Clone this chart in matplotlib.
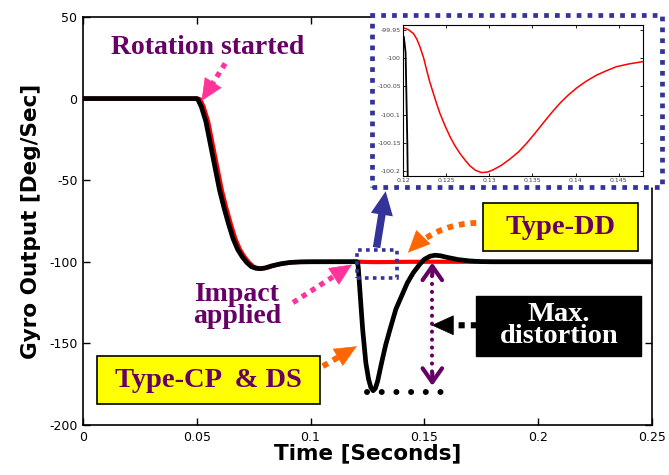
import matplotlib
matplotlib.use("Agg")
import matplotlib.pyplot as plt
from matplotlib.patches import Rectangle

# --- donnees ---
t_black = [0, 0.05, 0.0505, 0.052, 0.054, 0.057, 0.060, 0.062, 0.064, 0.066, 0.068,
           0.070, 0.072, 0.074, 0.076, 0.078, 0.080, 0.083, 0.087, 0.091, 0.095, 0.100,
           0.110, 0.1199, 0.1201, 0.1203, 0.1205, 0.1207, 0.121, 0.122, 0.1229, 0.1243,
           0.1255, 0.1265, 0.1275, 0.1285, 0.1295, 0.1312, 0.133, 0.1349, 0.1375, 0.140,
           0.1425, 0.1451, 0.148, 0.150, 0.1525, 0.1547, 0.157, 0.160, 0.165, 0.170,
           0.175, 0.180, 0.25]
v_black = [0, 0, -0.5, -5, -14, -35, -56, -67, -77, -86, -92.5,
           -97, -100.5, -103, -104, -104.2, -103.8, -102.5, -101.2, -100.4, -100.1, -100,
           -99.98, -99.96, -99.962, -99.99, -100.15, -100.4, -104, -124, -141.5, -162,
           -172, -177, -179, -177.5, -173, -162, -151, -141.5, -129, -121,
           -113, -106.8, -101.5, -98.5, -96.6, -96, -96.3, -97.3, -98.7, -99.5,
           -99.9, -100, -100]

t_red = [0, 0.0505, 0.0515, 0.053, 0.055, 0.058, 0.061, 0.063, 0.065, 0.067, 0.069,
         0.071, 0.073, 0.075, 0.077, 0.079, 0.081, 0.084, 0.088, 0.092, 0.096, 0.100,
         0.105, 0.110, 0.115, 0.118, 0.1200, 0.1206, 0.1212, 0.1216, 0.12197, 0.1224,
         0.12274, 0.1231, 0.12351, 0.1239, 0.12428, 0.1249, 0.12544, 0.1260, 0.1266,
         0.1272, 0.12775, 0.1284, 0.12911, 0.1298, 0.13045, 0.1314, 0.13238, 0.1334,
         0.13432, 0.1353, 0.13624, 0.1372, 0.13817, 0.1391, 0.1401, 0.1412, 0.14242,
         0.1436, 0.14473, 0.1462, 0.14781, 0.155, 0.170, 0.25]
v_red = [0, 0, -0.5, -5, -14, -35, -56, -67, -77, -86, -92.5,
         -97, -100.5, -103, -104, -104.1, -103.6, -102.3, -101.1, -100.4, -100.1, -100.0,
         -99.98, -99.96, -99.95, -99.946, -99.946, -99.949, -99.956, -99.966, -99.98, -100.0,
         -100.021, -100.042, -100.062, -100.081, -100.098, -100.121, -100.139, -100.155, -100.169,
         -100.181, -100.191, -100.199, -100.203, -100.202, -100.198, -100.19, -100.179, -100.166,
         -100.151, -100.133, -100.115, -100.097, -100.08, -100.066, -100.053, -100.041, -100.03,
         -100.022, -100.015, -100.01, -100.006, -99.998, -100.0, -100.0]

x_ticks = [0, 0.05, 0.1, 0.15, 0.2, 0.25]
x_labels = ['0', '0.05', '0.1', '0.15', '0.2', '0.25']
y_ticks = [-200, -150, -100, -50, 0, 50]
y_labels = ['-200', '-150', '-100', '-50', '0', '50']

zoom_x_ticks = [0.12, 0.125, 0.13, 0.135, 0.14, 0.145]
zoom_x_labels = ['0.12', '0.125', '0.13', '0.135', '0.14', '0.145']
zoom_y_ticks = [-100.2, -100.15, -100.1, -100.05, -100, -99.95]
zoom_y_labels = ['-100.2', '-100.15', '-100.1', '-100.05', '-100', '-99.95']

distortion_level = -180

PURPLE = '#660066'
PINK = '#FF3399'
ORANGE = '#FF6600'
BLUE = '#333399'
SERIF = 'Liberation Serif'

fig = plt.figure(figsize=(6.69, 4.75), dpi=100)
ax = fig.add_axes([0.124, 0.1053, 0.8505, 0.859])

ax.plot(t_red, v_red, color='red', lw=3.0, zorder=2)
ax.plot(t_black, v_black, color='black', lw=3.4, zorder=3)

ax.set_xlim(0, 0.25)
ax.set_ylim(-200, 50)
ax.set_xticks(x_ticks)
ax.set_xticklabels(x_labels)
ax.set_yticks(y_ticks)
ax.set_yticklabels(y_labels)
ax.tick_params(direction='in', top=True, right=True, length=5, width=1, labelsize=9, pad=4)
for s in ax.spines.values():
    s.set_linewidth(1.2)
ax.set_xlabel('Time [Seconds]', fontsize=15.5, fontweight='bold', labelpad=0)
ax.set_ylabel('Gyro Output [Deg/Sec]', fontsize=15.5, fontweight='bold', labelpad=6)


# fleche pointillee avec tete pleine (rad = courbure, comme arc3)
def dotted_arrow(tail, tip, color, lw=3.8, dash=(0, (1, 1.0)), rad=0.0):
    ax.annotate('', xy=tip, xytext=tail,
                arrowprops=dict(arrowstyle='-', color=color, lw=lw, linestyle=dash,
                                shrinkA=0, shrinkB=8, capstyle='butt',
                                connectionstyle='arc3,rad=%s' % rad), zorder=6)
    # direction de la tete : tangente a la fin de la courbe
    x1, y1 = ax.transData.transform(tail)
    x2, y2 = ax.transData.transform(tip)
    cx = (x1 + x2) / 2 + rad * (y2 - y1)
    cy = (y1 + y2) / 2 - rad * (x2 - x1)
    near = ax.transData.inverted().transform((x2 - 0.05 * (x2 - cx), y2 - 0.05 * (y2 - cy)))
    ax.annotate('', xy=tip, xytext=tuple(near),
                arrowprops=dict(arrowstyle='-|>,head_length=0.75,head_width=0.34',
                                color=color, lw=0.5, mutation_scale=20,
                                shrinkA=0, shrinkB=0), zorder=6)


# Rotation started
ax.text(0.0549, 31.2, 'Rotation started', color=PURPLE, fontsize=20, fontweight='bold',
        family=SERIF, ha='center', va='center')
dotted_arrow((0.0625, 21.5), (0.0521, -1.5), PINK)

# Impact applied
ax.text(0.0677, -126.8, 'Impact\napplied', color=PURPLE, fontsize=20, fontweight='bold',
        family=SERIF, ha='center', va='center', linespacing=0.85)
dotted_arrow((0.0923, -125), (0.1182, -101.7), PINK)

# zone agrandie
ax.add_patch(Rectangle((0.1203, -109.9), 0.0176, 17.4, fill=False, edgecolor=BLUE,
                       lw=2.6, linestyle=(0, (1, 1.2)), zorder=5))
ax.annotate('', xy=(0.133, -56.8), xytext=(0.129, -91.3),
            arrowprops=dict(arrowstyle='simple,head_length=0.85,head_width=0.8,tail_width=0.27',
                            color=BLUE, lw=0, mutation_scale=20, shrinkA=0, shrinkB=0), zorder=6)

# Type-DD
ax.add_patch(Rectangle((0.1759, -93.4), 0.0681, 29.4, facecolor='#FFFF00',
                       edgecolor='black', lw=1.2, zorder=6))
ax.text(0.2099, -78.7, 'Type-DD', color=PURPLE, fontsize=20.5, fontweight='bold',
        family=SERIF, ha='center', va='center', zorder=7)
dotted_arrow((0.1728, -76.2), (0.1428, -94.4), ORANGE, lw=4.2, rad=0.2)

# Type-CP & DS
ax.add_patch(Rectangle((0.0060, -187.1), 0.0980, 29.2, facecolor='#FFFF00',
                       edgecolor='black', lw=1.2, zorder=6))
ax.text(0.0551, -172.5, 'Type-CP  & DS', color=PURPLE, fontsize=20.5, fontweight='bold',
        family=SERIF, ha='center', va='center', zorder=7)
dotted_arrow((0.1054, -164), (0.1203, -151.8), ORANGE, lw=4.2)

# Max. distortion
ax.add_patch(Rectangle((0.1729, -157.7), 0.0725, 36.8, facecolor='black',
                       edgecolor='black', lw=1, zorder=6))
ax.text(0.2091, -139.1, 'Max.\ndistortion', color='white', fontsize=20.5, fontweight='bold',
        family=SERIF, ha='center', va='center', linespacing=0.85, zorder=7)
dotted_arrow((0.1731, -138.9), (0.1532, -138.9), 'black', lw=4.4)

# double fleche verticale
ax.plot([0.1535, 0.1535], [-104, -172], color=PURPLE, lw=3, linestyle=(0, (0.01, 1.9)),
        dash_capstyle='round', zorder=6)
ax.annotate('', xy=(0.1535, -100.5), xytext=(0.1535, -108),
            arrowprops=dict(arrowstyle='->,head_length=0.5,head_width=0.35', color=PURPLE,
                            lw=3, mutation_scale=20, shrinkA=0, shrinkB=0), zorder=6)
ax.annotate('', xy=(0.1535, -176), xytext=(0.1535, -168),
            arrowprops=dict(arrowstyle='->,head_length=0.5,head_width=0.35', color=PURPLE,
                            lw=3, mutation_scale=20, shrinkA=0, shrinkB=0), zorder=6)

# niveau minimum
ax.plot([0.1247, 0.1575], [distortion_level, distortion_level], color='black', lw=4.3,
        linestyle=(0, (0.01, 2.45)), dash_capstyle='round', zorder=6)

# cadre de l'agrandissement
fig.add_artist(Rectangle((372 / 669, 1 - 187 / 475), 290 / 669, 172 / 475,
                         transform=fig.transFigure, facecolor='white', edgecolor=BLUE,
                         lw=3.4, linestyle=(0, (1, 1.3)), zorder=1))

axz = fig.add_axes([0.6024, 0.6295, 0.3587, 0.3179], zorder=2)
axz.plot(t_red, v_red, color='red', lw=1.1)
axz.plot(t_black, v_black, color='black', lw=1.3)
axz.set_xlim(0.12, 0.1478)
axz.set_ylim(-100.209, -99.941)
axz.set_xticks(zoom_x_ticks)
axz.set_xticklabels(zoom_x_labels)
axz.set_yticks(zoom_y_ticks)
axz.set_yticklabels(zoom_y_labels)
axz.tick_params(direction='in', top=True, right=True, length=2, width=0.6,
                labelsize=4.5, labelcolor='#444444', pad=1.5)
for s in axz.spines.values():
    s.set_linewidth(0.8)

fig.savefig('out.png', dpi=100)
